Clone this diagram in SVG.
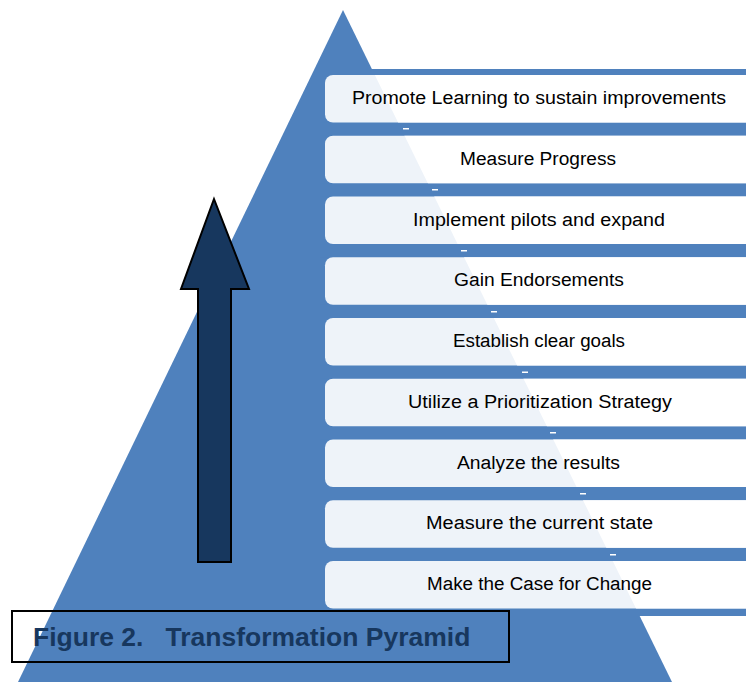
<svg xmlns="http://www.w3.org/2000/svg" width="746" height="682" viewBox="0 0 746 682">
  <defs>
    <style>
      .band { fill: #4f81bd; }
      .box { fill: #ffffff; fill-opacity: 0.9; }
      .lbl { font-family: "Liberation Sans", Arial, sans-serif; font-size: 18px; fill: #000000; text-anchor: middle; }
      .tick { fill: #ffffff; }
    </style>
  </defs>
  <rect width="746" height="682" fill="#ffffff"/>
  <g id="pyramid">
    <polygon points="343,10 18,682 672,682" fill="#4f81bd"/>
  </g>
  <g id="connectors">
    <rect class="band" x="320" y="69" width="426" height="6"/>
    <rect class="band" x="320" y="122.5" width="426" height="13.25"/>
    <rect class="band" x="320" y="183.25" width="426" height="13.25"/>
    <rect class="band" x="320" y="244" width="426" height="13.25"/>
    <rect class="band" x="320" y="304.75" width="426" height="13.25"/>
    <rect class="band" x="320" y="365.5" width="426" height="13.25"/>
    <rect class="band" x="320" y="426.25" width="426" height="13.25"/>
    <rect class="band" x="320" y="487" width="426" height="13.25"/>
    <rect class="band" x="320" y="547.75" width="426" height="13.25"/>
    <rect class="band" x="320" y="608.5" width="426" height="7.5"/>
    <rect class="tick" x="403" y="128" width="6" height="1.5"/>
    <rect class="tick" x="432" y="189" width="6" height="1.5"/>
    <rect class="tick" x="461" y="250" width="6" height="1.5"/>
    <rect class="tick" x="491" y="311" width="6" height="1.5"/>
    <rect class="tick" x="522" y="371.5" width="6" height="1.5"/>
    <rect class="tick" x="550" y="432" width="6" height="1.5"/>
    <rect class="tick" x="580" y="493" width="6" height="1.5"/>
    <rect class="tick" x="610" y="554" width="6" height="1.5"/>
  </g>
  <g id="step9">
    <rect class="box" x="325" y="75" width="440" height="47.5" rx="8"/>
    <text class="lbl" x="539" y="104" textLength="374" lengthAdjust="spacingAndGlyphs">Promote Learning to sustain improvements</text>
  </g>
  <g id="step8">
    <rect class="box" x="325" y="135.75" width="440" height="47.5" rx="8"/>
    <text class="lbl" x="538" y="164.75" textLength="156" lengthAdjust="spacingAndGlyphs">Measure Progress</text>
  </g>
  <g id="step7">
    <rect class="box" x="325" y="196.5" width="440" height="47.5" rx="8"/>
    <text class="lbl" x="539" y="225.5" textLength="252" lengthAdjust="spacingAndGlyphs">Implement pilots and expand</text>
  </g>
  <g id="step6">
    <rect class="box" x="325" y="257.25" width="440" height="47.5" rx="8"/>
    <text class="lbl" x="539" y="286.25" textLength="170" lengthAdjust="spacingAndGlyphs">Gain Endorsements</text>
  </g>
  <g id="step5">
    <rect class="box" x="325" y="318" width="440" height="47.5" rx="8"/>
    <text class="lbl" x="539" y="347" textLength="172" lengthAdjust="spacingAndGlyphs">Establish clear goals</text>
  </g>
  <g id="step4">
    <rect class="box" x="325" y="378.75" width="440" height="47.5" rx="8"/>
    <text class="lbl" x="540" y="407.75" textLength="264" lengthAdjust="spacingAndGlyphs">Utilize a Prioritization Strategy</text>
  </g>
  <g id="step3">
    <rect class="box" x="325" y="439.5" width="440" height="47.5" rx="8"/>
    <text class="lbl" x="538.5" y="468.5" textLength="163" lengthAdjust="spacingAndGlyphs">Analyze the results</text>
  </g>
  <g id="step2">
    <rect class="box" x="325" y="500.25" width="440" height="47.5" rx="8"/>
    <text class="lbl" x="539.5" y="529.25" textLength="227" lengthAdjust="spacingAndGlyphs">Measure the current state</text>
  </g>
  <g id="step1">
    <rect class="box" x="325" y="561" width="440" height="47.5" rx="8"/>
    <text class="lbl" x="539.5" y="590" textLength="225" lengthAdjust="spacingAndGlyphs">Make the Case for Change</text>
  </g>
  <g id="arrow">
    <polygon points="214,199 249,289 231,289 231,562 198,562 198,289 181,289" fill="#17375e" stroke="#000000" stroke-width="2" stroke-linejoin="miter"/>
  </g>
  <g id="caption">
    <rect x="12" y="611" width="497" height="51" fill="none" stroke="#000000" stroke-width="2"/>
    <text x="33" y="646" font-family="Liberation Sans, Arial, sans-serif" font-weight="bold" font-size="26.5" fill="#17375e" xml:space="preserve">Figure 2.   Transformation Pyramid</text>
  </g>
</svg>
